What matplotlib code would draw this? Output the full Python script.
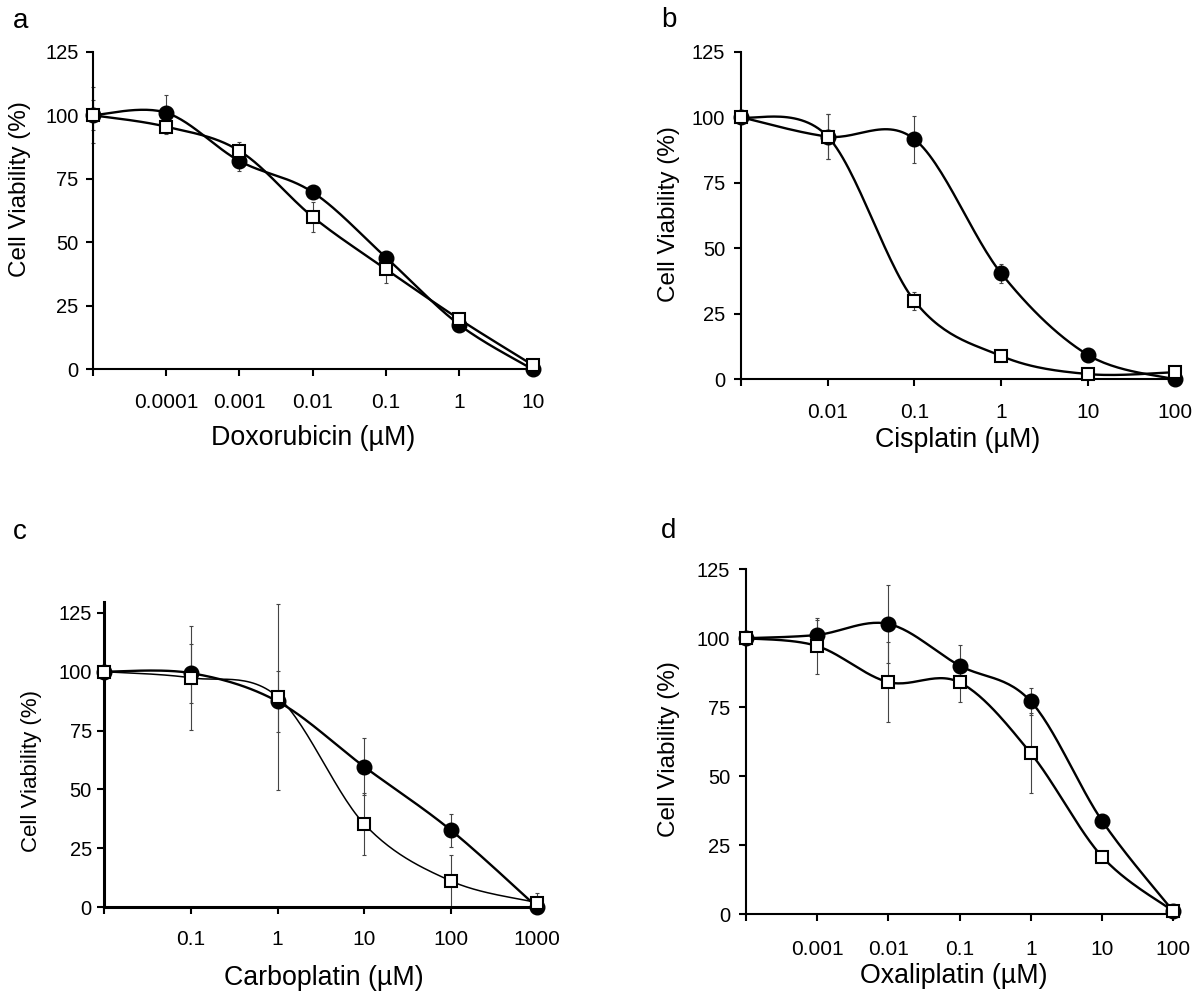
import numpy as np
import matplotlib
matplotlib.use("Agg")
import matplotlib.pyplot as plt

plt.rcParams['font.family'] = ['Liberation Sans', 'DejaVu Sans']

# Panel a - Doxorubicin
dox_ticks = ['', '0.0001', '0.001', '0.01', '0.1', '1', '10']
dox_circle = [100, 101, 82, 69.7, 44, 17.5, 0]
dox_circle_err = [11, 7, 4, 2, 2, 1, 0.5]
dox_square = [100, 95.5, 86, 60, 39.4, 19.7, 1.7]
dox_square_err = [6, 3, 3.6, 6, 5.5, 1, 0.5]

# Panel b - Cisplatin
cis_ticks = ['', '0.01', '0.1', '1', '10', '100']
cis_circle = [100, 92.6, 91.6, 40.4, 9.3, 0]
cis_circle_err = [0.5, 8.5, 9, 3.5, 1, 0.5]
cis_square = [100, 92.6, 29.9, 8.9, 2, 2.7]
cis_square_err = [0.5, 8.5, 3.4, 1, 0.5, 0.5]

# Panel c - Carboplatin
carb_ticks = ['', '0.1', '1', '10', '100', '1000']
carb_circle = [100, 99.4, 87.4, 59.7, 32.8, 0]
carb_circle_err = [0.5, 12.5, 13, 12, 7, 2]
carb_square = [100, 97.4, 89.4, 35.4, 11.2, 2]
carb_square_err = [0.5, 22, 39.5, 13, 11, 4]

# Panel d - Oxaliplatin
oxa_ticks = ['', '0.001', '0.01', '0.1', '1', '10', '100']
oxa_circle = [100, 101.2, 105.2, 90.1, 77.1, 33.8, 1]
oxa_circle_err = [0.5, 5.5, 14, 7.3, 5, 1.5, 0.5]
oxa_square = [100, 97.2, 84.1, 84, 58.3, 20.8, 1]
oxa_square_err = [0.5, 10, 14.5, 7, 14.5, 1.5, 0.5]


def smooth(y, steps=30):
    # Excel-style smoothed line (Catmull-Rom Bezier through the points)
    x = np.arange(len(y), dtype=float)
    y = np.asarray(y, dtype=float)
    px = np.concatenate([[x[0]], x, [x[-1]]])
    py = np.concatenate([[y[0]], y, [y[-1]]])
    xs, ys = [], []
    t = np.linspace(0, 1, steps)
    for i in range(len(y) - 1):
        p0 = np.array([px[i + 1], py[i + 1]])
        p3 = np.array([px[i + 2], py[i + 2]])
        c1 = p0 + (p3 - np.array([px[i], py[i]])) / 6
        c2 = p3 - (np.array([px[i + 3], py[i + 3]]) - p0) / 6
        b = ((1 - t) ** 3)[:, None] * p0 + (3 * (1 - t) ** 2 * t)[:, None] * c1 \
            + (3 * (1 - t) * t ** 2)[:, None] * c2 + (t ** 3)[:, None] * p3
        xs.append(b[:, 0])
        ys.append(b[:, 1])
    return np.concatenate(xs), np.concatenate(ys)


def panel(rect, ticks, circ, circ_err, sq, sq_err, xlabel, letter, letter_pos,
          xlab, ylab, xpad, ypad, top=125, sq_lw=1.7, spine_lw=1.5,
          ylab_size=17.5):
    ax = fig.add_axes(rect)
    x = np.arange(len(ticks))
    for vals, err in [(circ, circ_err), (sq, sq_err)]:
        ax.errorbar(x, vals, yerr=err, fmt='none', ecolor='#444444',
                    elinewidth=0.8, capsize=1.5, capthick=0.8, clip_on=False,
                    zorder=2)
    sx, sy = smooth(circ)
    ax.plot(sx, sy, color='black', lw=1.7, clip_on=False, zorder=3)
    ax.plot(x, circ, 'o', color='black', ms=10.5, clip_on=False, zorder=4)
    sx, sy = smooth(sq)
    ax.plot(sx, sy, color='black', lw=sq_lw, clip_on=False, zorder=5)
    ax.plot(x, sq, 's', mfc='white', mec='black', mew=1.5, ms=8.5,
            clip_on=False, zorder=6)
    ax.set_xlim(0, len(ticks) - 1)
    ax.set_ylim(0, top)
    ax.set_yticks([0, 25, 50, 75, 100, 125])
    ax.set_xticks(x)
    ax.set_xticklabels(ticks)
    for s in ['top', 'right']:
        ax.spines[s].set_visible(False)
    for s in ['left', 'bottom']:
        ax.spines[s].set_linewidth(spine_lw)
    ax.tick_params(axis='both', direction='out', length=5, width=1.5)
    ax.tick_params(axis='x', pad=xpad, labelsize=15)
    ax.tick_params(axis='y', pad=ypad, labelsize=14.5)
    ax.set_xlabel(xlabel, fontsize=19.3)
    ax.xaxis.set_label_coords(xlab[0], xlab[1])
    ax.xaxis.label.set_va('baseline')
    ax.set_ylabel('Cell Viability (%)', fontsize=ylab_size)
    ax.yaxis.set_label_coords(ylab[0], ylab[1])
    ax.yaxis.label.set_va('center')
    fig.text(letter_pos[0], letter_pos[1], letter, fontsize=20,
             ha='left', va='baseline')
    return ax


fig = plt.figure(figsize=(12, 9.94), dpi=100)

panel([0.07725, 0.62847, 0.36667, 0.31952], dox_ticks, dox_circle,
      dox_circle_err, dox_square, dox_square_err, 'Doxorubicin (µM)', 'a',
      (0.0108, 0.9718), (0.500, -0.238), (-0.165, 0.569), 12.2, 5.3)
panel([0.6175, 0.61841, 0.36142, 0.32958], cis_ticks, cis_circle,
      cis_circle_err, cis_square, cis_square_err, 'Cisplatin (µM)', 'b',
      (0.5508, 0.9728), (0.499, -0.2057), (-0.166, 0.505), 12.2, 6.5)
panel([0.08692, 0.08722, 0.36083, 0.30744], carb_ticks, carb_circle,
      carb_circle_err, carb_square, carb_square_err, 'Carboplatin (µM)', 'c',
      (0.0108, 0.4577), (0.507, -0.254), (-0.167, 0.447), 11.3, 4.0,
      top=129.7, sq_lw=1.1, spine_lw=2.2, ylab_size=16)
panel([0.62142, 0.08048, 0.35633, 0.34678], oxa_ticks, oxa_circle,
      oxa_circle_err, oxa_square, oxa_square_err, 'Oxaliplatin (µM)', 'd',
      (0.5508, 0.4588), (0.486, -0.201), (-0.179, 0.479), 13.7, 6.2)

fig.savefig('out.png', dpi=100)
